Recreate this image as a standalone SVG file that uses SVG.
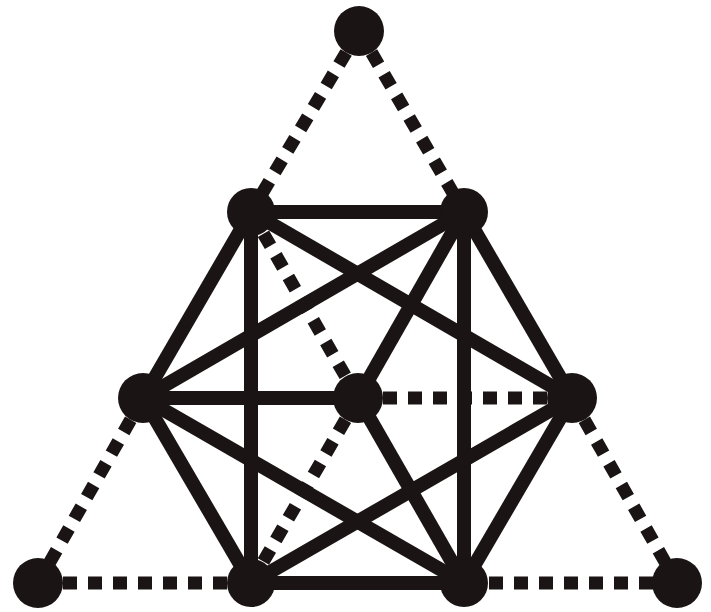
<svg xmlns="http://www.w3.org/2000/svg" width="711" height="612" viewBox="0 0 711 612">
<style>
.s{stroke:#1a1414;stroke-width:14;fill:none}
.d{stroke:#1a1414;stroke-width:13;fill:none;stroke-dasharray:14 11}
.n{fill:#1a1414}
</style>
<rect width="711" height="612" fill="#fff"/>
<g id="connectors">
<line class="d" x1="359" y1="31" x2="251" y2="212"/>
<line class="d" x1="359" y1="31" x2="464" y2="212"/>
<line class="d" x1="251" y1="212" x2="358" y2="398"/>
<line class="d" x1="358" y1="398" x2="572" y2="398"/>
<line class="d" x1="358" y1="398" x2="251" y2="583"/>
<line class="d" x1="143" y1="398" x2="38" y2="583"/>
<line class="d" x1="572" y1="398" x2="677" y2="583"/>
<line class="d" x1="38" y1="583" x2="251" y2="583"/>
<line class="d" x1="464" y1="583" x2="677" y2="583"/>
<line class="s" x1="251" y1="212" x2="464" y2="212"/>
<line class="s" x1="251" y1="212" x2="143" y2="398"/>
<line class="s" x1="251" y1="212" x2="251" y2="583"/>
<line class="s" x1="251" y1="212" x2="572" y2="398"/>
<line class="s" x1="464" y1="212" x2="143" y2="398"/>
<line class="s" x1="464" y1="212" x2="358" y2="398"/>
<line class="s" x1="464" y1="212" x2="464" y2="583"/>
<line class="s" x1="464" y1="212" x2="572" y2="398"/>
<line class="s" x1="143" y1="398" x2="358" y2="398"/>
<line class="s" x1="143" y1="398" x2="251" y2="583"/>
<line class="s" x1="143" y1="398" x2="464" y2="583"/>
<line class="s" x1="358" y1="398" x2="464" y2="583"/>
<line class="s" x1="572" y1="398" x2="464" y2="583"/>
<line class="s" x1="572" y1="398" x2="251" y2="583"/>
<line class="s" x1="251" y1="583" x2="464" y2="583"/>
</g>
<g id="n-top"><circle class="n" cx="359" cy="31" r="25"/></g>
<g id="n-ul"><circle class="n" cx="251" cy="212" r="24"/></g>
<g id="n-ur"><circle class="n" cx="464" cy="212" r="24"/></g>
<g id="n-l"><circle class="n" cx="143" cy="398" r="25"/></g>
<g id="n-c"><circle class="n" cx="358" cy="398" r="25"/></g>
<g id="n-r"><circle class="n" cx="572" cy="398" r="25"/></g>
<g id="n-bl"><circle class="n" cx="38" cy="583" r="25"/></g>
<g id="n-blm"><circle class="n" cx="251" cy="583" r="24"/></g>
<g id="n-brm"><circle class="n" cx="464" cy="583" r="24"/></g>
<g id="n-br"><circle class="n" cx="677" cy="583" r="25"/></g>
</svg>
